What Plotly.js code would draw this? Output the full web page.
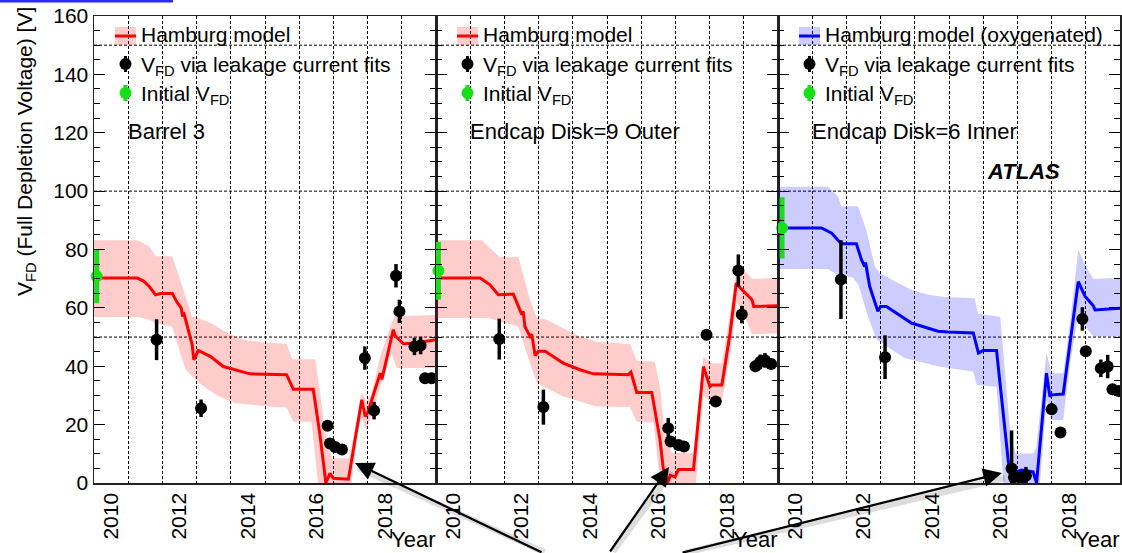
<!DOCTYPE html>
<html>
<head>
<meta charset="utf-8">
<script src="https://cdn.plot.ly/plotly-3.0.1.min.js"></script>
<style>
  html, body { margin: 0; padding: 0; background: #fff; overflow: hidden; }
  #chart { width: 1122px; height: 553px; }
</style>
</head>
<body>
<div id="chart"></div>
<script>
// ---------- Barrel 3 ----------
const b3ModelYear = [2009.5, 2010.77, 2010.96, 2011.11, 2011.3, 2011.45, 2011.79, 2011.94, 2012.05, 2012.09, 2012.12, 2012.18, 2012.28, 2012.37, 2012.42, 2012.55, 2012.91, 2013.28, 2014.06, 2015.13, 2015.33, 2015.91, 2016.1, 2016.28, 2016.4, 2016.5, 2016.94, 2017.33, 2017.43, 2017.5, 2017.87, 2017.92, 2018.25, 2018.3, 2018.55, 2018.84, 2019.5];
const b3ModelV    = [70.2, 70.2, 69.1, 67.4, 64.5, 64.9, 64.9, 61.7, 60.0, 57.0, 58.5, 55.9, 51.4, 47.4, 42.2, 45.4, 43.3, 39.9, 37.4, 37.1, 32.1, 32.1, 17.1, 0.1, 3.3, 1.6, 1.3, 28.5, 22.8, 24.0, 37.6, 35.5, 52.5, 50.5, 47.7, 47.9, 49.1];
const b3UpYear = [2009.5, 2010.77, 2011.11, 2011.3, 2011.79, 2011.89, 2012.13, 2012.37, 2012.52, 2012.91, 2013.4, 2013.89, 2014.37, 2015.13, 2015.3, 2015.97, 2016.12, 2016.26, 2016.45, 2016.97, 2017.05, 2017.33, 2017.45, 2017.6, 2017.87, 2018.2, 2018.3, 2019.5];
const b3UpV    = [83.2, 83.2, 81.1, 77.7, 77.7, 74.2, 65.1, 57.1, 56.5, 54.8, 51.4, 49.1, 48.2, 47.7, 42.4, 42.4, 30.0, 18.0, 8.5, 8.5, 14.0, 31.0, 28.0, 30.0, 43.3, 54.8, 57.1, 57.6];
const b3LoYear = [2009.5, 2010.8, 2011.11, 2011.3, 2011.79, 2012.02, 2012.18, 2012.58, 2013.1, 2013.6, 2014.58, 2015.13, 2015.33, 2015.86, 2016.05, 2017.03, 2017.2, 2017.33, 2017.47, 2017.87, 2018.2, 2018.35, 2019.5];
const b3LoV    = [56.9, 56.9, 55.9, 54.8, 53.5, 44.5, 38.8, 34.2, 30.0, 27.4, 26.2, 25.9, 21.0, 21.0, 0, 0, 18.2, 22.0, 18.0, 33.0, 44.5, 39.4, 39.4];
const b3FitYear = [2011.33, 2012.63, 2016.33, 2016.4, 2016.55, 2016.75, 2017.42, 2017.69, 2018.33, 2018.43, 2018.87, 2019.05, 2019.18, 2019.37];
const b3FitV    = [49.1, 25.6, 19.6, 13.5, 12.3, 11.5, 42.8, 24.8, 71.0, 58.8, 46.8, 47.1, 35.9, 35.9];
const b3FitErr  = [7, 3, 1, 1, 1, 1, 4, 3, 4, 4, 3, 3, 1.5, 1.5];
const b3InitYear = [2009.58], b3InitV = [70.8], b3InitErr = [9.2];

// ---------- Endcap Disk=9 Outer ----------
const d9ModelYear = [2009.5, 2010.79, 2011.08, 2011.32, 2011.76, 2011.91, 2012.01, 2012.05, 2012.1, 2012.25, 2012.3, 2012.4, 2012.49, 2012.69, 2013.22, 2013.71, 2014.1, 2015.12, 2015.2, 2015.37, 2015.81, 2016.05, 2016.15, 2016.27, 2016.35, 2016.49, 2016.59, 2017.03, 2017.32, 2017.51, 2017.56, 2017.86, 2018.1, 2018.28, 2018.4, 2018.74, 2018.79, 2019.5];
const d9ModelV    = [70.2, 70.2, 67.9, 64.5, 64.7, 60.5, 57.7, 58.8, 53.6, 50.2, 51.0, 43.6, 45.1, 45.1, 41.1, 38.8, 37.4, 37.1, 38.0, 31.0, 31.0, 14.8, 4.5, 0, 2.6, 2.1, 4.6, 4.6, 39.9, 33.0, 33.6, 33.6, 51.4, 68.5, 66.8, 62.8, 60.5, 60.7];
const d9UpYear = [2009.5, 2010.84, 2011.12, 2011.37, 2011.91, 2012.06, 2012.25, 2012.45, 2012.74, 2013.22, 2013.71, 2014.2, 2015.17, 2015.37, 2015.9, 2016.05, 2016.19, 2016.4, 2017.0, 2017.05, 2017.32, 2017.56, 2017.86, 2018.1, 2018.3, 2018.53, 2018.74, 2019.5];
const d9UpV    = [83.2, 83.2, 80.0, 77.4, 77.4, 70.8, 62.8, 56.5, 55.9, 53.0, 50.2, 48.4, 47.6, 41.9, 41.5, 32.6, 16.6, 10.3, 10.3, 12.0, 43.3, 41.0, 41.0, 58.2, 74.3, 72.6, 70.0, 70.2];
const d9LoYear = [2009.5, 2011.03, 2011.27, 2011.91, 2012.15, 2012.45, 2013.22, 2014.2, 2015.17, 2015.37, 2015.86, 2016.05, 2017.1, 2017.32, 2017.51, 2017.86, 2018.1, 2018.3, 2018.53, 2018.74, 2019.5];
const d9LoV    = [56.5, 56.5, 55.9, 53.6, 44.5, 34.2, 29.6, 26.2, 26.0, 21.0, 20.7, 0, 0, 30.0, 28.0, 28.0, 44.0, 62.0, 57.0, 51.0, 51.3];
const d9FitYear = [2011.35, 2012.64, 2016.29, 2016.36, 2016.59, 2016.75, 2017.41, 2017.68, 2018.34, 2018.44, 2018.84, 2018.98, 2019.12, 2019.3];
const d9FitV    = [49.3, 26.0, 18.8, 14.2, 13.0, 12.5, 50.8, 27.9, 72.8, 57.7, 40.0, 41.5, 42.0, 40.8];
const d9FitErr  = [7, 6, 3.5, 1, 1, 1, 1.5, 1.5, 5.5, 3, 2, 2.5, 2.5, 1.5];
const d9InitYear = [2009.57], d9InitV = [72.7], d9InitErr = [9.9];

// ---------- Endcap Disk=6 Inner (oxygenated) ----------
const d6ModelYear = [2009.5, 2010.77, 2011.06, 2011.35, 2011.79, 2011.94, 2012.03, 2012.06, 2012.18, 2012.33, 2012.42, 2012.5, 2012.67, 2013.4, 2014.18, 2014.47, 2015.21, 2015.36, 2015.5, 2015.89, 2016.09, 2016.23, 2016.33, 2016.48, 2016.62, 2016.96, 2017.06, 2017.35, 2017.45, 2017.5, 2017.84, 2018.04, 2018.28, 2018.48, 2018.72, 2018.77, 2019.5];
const d6ModelV    = [87.4, 87.4, 85.7, 82.0, 82.0, 76.5, 74.2, 75.5, 67.4, 62.2, 58.8, 60.5, 60.5, 54.8, 52.0, 51.7, 51.4, 44.5, 45.4, 45.4, 22.8, 7.9, 0, 3.8, 4.4, 3.8, 0, 37.6, 29.6, 30.2, 30.5, 47.9, 69.0, 63.9, 60.7, 59.3, 59.9];
const d6UpYear = [2009.5, 2010.96, 2011.25, 2011.35, 2011.84, 2012.08, 2012.33, 2012.47, 2012.91, 2013.4, 2013.89, 2014.37, 2015.25, 2015.35, 2016.0, 2016.09, 2016.29, 2016.45, 2016.96, 2017.05, 2017.35, 2017.5, 2017.84, 2018.04, 2018.28, 2018.52, 2018.72, 2019.5];
const d6UpV    = [101.5, 101.5, 98.2, 94.8, 94.8, 86.8, 74.2, 72.0, 69.1, 66.2, 64.5, 63.7, 63.3, 58.0, 57.0, 45.0, 17.1, 10.1, 10.1, 12.0, 44.5, 37.6, 37.6, 54.8, 79.9, 73.7, 70.0, 70.2];
const d6LoYear = [2009.5, 2010.96, 2011.16, 2011.69, 2011.85, 2012.13, 2012.39, 2013.2, 2014.17, 2015.21, 2015.31, 2015.89, 2016.09, 2017.16, 2017.35, 2017.5, 2017.84, 2018.04, 2018.28, 2018.48, 2018.72, 2019.5];
const d6LoV    = [73.3, 73.3, 71.9, 70.3, 68.0, 57.0, 49.1, 42.8, 40.0, 38.2, 33.6, 33.0, 0, 0, 28.5, 21.6, 21.6, 41.0, 58.2, 53.6, 50.2, 50.2];
const d6FitYear = [2011.34, 2012.63, 2016.33, 2016.4, 2016.6, 2016.75, 2017.5, 2017.76, 2018.4, 2018.5, 2018.94, 2019.14, 2019.28, 2019.47];
const d6FitV    = [69.7, 43.1, 5.0, 2.0, 1.8, 2.5, 25.3, 17.3, 56.2, 45.1, 39.3, 39.9, 32.1, 31.5];
const d6FitErr  = [13.5, 7.5, 13, 1, 1, 3, 2, 1, 4, 1.5, 3, 4, 1, 1];
const d6InitYear = [2009.62], d6InitV = [87.4], d6InitErr = [10.5];

// ---------- axes / labels ----------
const yearTicks = [2010, 2012, 2014, 2016, 2018];
const yearGrid = [2010.5, 2011.5, 2012.5, 2013.5, 2014.5, 2015.5, 2016.5, 2017.5, 2018.5];
const voltTicks = [0, 20, 40, 60, 80, 100, 120, 140, 160];
const voltGrid = [50, 100, 150];
const panelNames = ['Barrel 3', 'Endcap Disk=9 Outer', 'Endcap Disk=6 Inner'];
const modelNames = ['Hamburg model', 'Hamburg model', 'Hamburg model (oxygenated)'];
const fitName = 'V<sub>FD</sub> via leakage current fits';
const initName = 'Initial V<sub>FD</sub>';

const FONT = 'Liberation Sans, Arial, Helvetica, sans-serif';
const GREEN = 'rgb(24,224,24)';
const lineColors = ['#ff0000', '#ff0000', '#0000ff'];
const bandColors = ['rgba(255,0,0,0.2)', 'rgba(255,0,0,0.2)', 'rgba(0,0,255,0.2)'];

const panels = [
  {model: [b3ModelYear, b3ModelV], up: [b3UpYear, b3UpV], lo: [b3LoYear, b3LoV], fit: [b3FitYear, b3FitV, b3FitErr], init: [b3InitYear, b3InitV, b3InitErr]},
  {model: [d9ModelYear, d9ModelV], up: [d9UpYear, d9UpV], lo: [d9LoYear, d9LoV], fit: [d9FitYear, d9FitV, d9FitErr], init: [d9InitYear, d9InitV, d9InitErr]},
  {model: [d6ModelYear, d6ModelV], up: [d6UpYear, d6UpV], lo: [d6LoYear, d6LoV], fit: [d6FitYear, d6FitV, d6FitErr], init: [d6InitYear, d6InitV, d6InitErr]}
];

// plot-area frame in page pixels, used to place the hand-drawn legends and arrows
const W = 1122, H = 553;
const PL = 94, PR = 1120, PT = 16, PB = 483;
const px = x => (x - PL) / (PR - PL);
const py = y => (PB - y) / (PB - PT);
const PW = (PR - PL) / 3;

const traces = [];
const layout = {
  width: W, height: H,
  margin: {l: PL, r: W - PR, t: PT, b: H - PB},
  paper_bgcolor: '#fff', plot_bgcolor: 'rgba(0,0,0,0)',
  showlegend: false,
  font: {family: FONT, size: 21, color: '#000'},
  shapes: [], annotations: []
};

panels.forEach((p, i) => {
  const n = i === 0 ? '' : String(i + 1);
  const xa = 'x' + n, ya = 'y' + n;

  // uncertainty band of the model
  traces.push({
    x: p.up[0].concat(p.lo[0].slice().reverse()),
    y: p.up[1].concat(p.lo[1].slice().reverse()),
    xaxis: xa, yaxis: ya, mode: 'lines', fill: 'toself',
    fillcolor: bandColors[i], line: {width: 0}, hoverinfo: 'skip'
  });
  // model curve
  traces.push({
    x: p.model[0], y: p.model[1], xaxis: xa, yaxis: ya, mode: 'lines',
    line: {color: lineColors[i], width: 3}
  });
  // fitted depletion voltages
  const [fx, fy, fe] = p.fit;
  traces.push({
    x: fx, y: fy, xaxis: xa, yaxis: ya, mode: 'markers', cliponaxis: false,
    marker: {color: '#000', size: 12},
    error_y: {type: 'data', symmetric: false, array: fe, arrayminus: fe.map((e, k) => Math.min(e, fy[k])),
              color: '#000', thickness: 3.5, width: 0}
  });
  // initial depletion voltage
  const [ix, iy, ie] = p.init;
  traces.push({
    x: ix, y: iy, xaxis: xa, yaxis: ya, mode: 'markers', cliponaxis: false,
    marker: {color: GREEN, size: 12},
    error_y: {type: 'data', array: ie, color: GREEN, thickness: 5, width: 0}
  });

  const d0 = i / 3, d1 = (i + 1) / 3;
  layout['xaxis' + n] = {
    domain: [d0, d1], anchor: ya, range: [2009.5, 2019.5],
    tickmode: 'array', tickvals: yearTicks, ticktext: yearTicks.map(String),
    tickangle: -90, ticks: '', showgrid: false, zeroline: false,
    showline: true, linecolor: '#222', linewidth: 1.5, mirror: true,
    tickfont: {family: FONT, size: 21, color: '#000'},
    minor: {tickmode: 'array', tickvals: yearGrid, ticks: '', showgrid: true,
            gridcolor: '#000', gridwidth: 1, griddash: '3px,2px'}
  };
  layout['yaxis' + n] = {
    domain: [0, 1], anchor: xa, range: [0, 160],
    tickmode: 'array', tickvals: voltTicks, ticktext: voltTicks.map(String),
    showticklabels: i === 0, ticks: 'inside', ticklen: 11, tickwidth: 1, tickcolor: '#000',
    showgrid: false, zeroline: false,
    showline: true, linecolor: '#222', linewidth: 1.5, mirror: 'ticks',
    tickfont: {family: FONT, size: 21, color: '#000'},
    minor: {dtick: 5, ticks: 'inside', ticklen: 6, tickwidth: 1, tickcolor: '#000', showgrid: false}
  };

  // horizontal dashed grid
  voltGrid.forEach(v => layout.shapes.push({
    type: 'line', xref: xa + ' domain', yref: ya, x0: 0, x1: 1, y0: v, y1: v,
    line: {color: '#000', width: 1, dash: '3px,2px'}, layer: 'below'
  }));

  // legend block
  const ox = PW * i;
  layout.shapes.push(
    {type: 'rect', xref: 'paper', yref: 'paper', x0: px(115 + ox), x1: px(136 + ox), y0: py(45), y1: py(27),
     fillcolor: bandColors[i], line: {width: 0}},
    {type: 'line', xref: 'paper', yref: 'paper', x0: px(115 + ox), x1: px(136 + ox), y0: py(36), y1: py(36),
     line: {color: lineColors[i], width: 3}},
    {type: 'line', xref: 'paper', yref: 'paper', x0: px(125.5 + ox), x1: px(125.5 + ox), y0: py(56), y1: py(72),
     line: {color: '#000', width: 3}},
    {type: 'circle', xref: 'paper', yref: 'paper', x0: px(119.5 + ox), x1: px(131.5 + ox), y0: py(70), y1: py(58),
     fillcolor: '#000', line: {width: 0}},
    {type: 'line', xref: 'paper', yref: 'paper', x0: px(125.5 + ox), x1: px(125.5 + ox), y0: py(85), y1: py(101),
     line: {color: GREEN, width: 4}},
    {type: 'circle', xref: 'paper', yref: 'paper', x0: px(119.5 + ox), x1: px(131.5 + ox), y0: py(99), y1: py(87),
     fillcolor: GREEN, line: {width: 0}}
  );
  const txt = (text, x, y, extra) => Object.assign({
    text, xref: 'paper', yref: 'paper', x: px(x), y: py(y), xanchor: 'left', yanchor: 'middle',
    showarrow: false, font: {family: FONT, size: 21, color: '#000'}, borderpad: 0
  }, extra || {});
  layout.annotations.push(
    txt(modelNames[i], 140 + ox, 35),
    txt(fitName, 140 + ox, 66),
    txt(initName, 140 + ox, 95),
    txt(panelNames[i], 127 + ox, 131, {font: {family: FONT, size: 22, color: '#000'}}),
    txt('Year', PL + PW * (i + 1), 539, {xanchor: 'right', font: {family: FONT, size: 22, color: '#000'}})
  );
});

layout.annotations.push(
  {text: '<b><i>ATLAS</i></b>', xref: 'paper', yref: 'paper', x: px(1023), y: py(172),
   xanchor: 'center', yanchor: 'middle', showarrow: false, font: {family: FONT, size: 22, color: '#000'}},
  {text: 'V<sub>FD</sub> (Full Depletion Voltage) [V]', xref: 'paper', yref: 'paper',
   x: px(26), y: py(152), xanchor: 'center', yanchor: 'middle', textangle: -90,
   showarrow: false, font: {family: FONT, size: 21, color: '#000'}}
);

// pointer arrows to the type-inversion region, with a soft drop shadow
const arrows = [
  {tip: [355, 463], tail: [543, 558]},
  {tip: [669, 467], tail: [609, 559]},
  {tip: [1002, 473], tail: [681, 558]}
];
arrows.forEach(a => {
  layout.annotations.push({
    text: '', xref: 'paper', yref: 'paper', x: px(a.tip[0] + 3), y: py(a.tip[1] + 5),
    ax: a.tail[0] - a.tip[0], ay: a.tail[1] - a.tip[1], axref: 'pixel', ayref: 'pixel',
    showarrow: true, arrowhead: 0, arrowwidth: 6, arrowcolor: 'rgba(0,0,0,0.13)', standoff: 0
  });
});
arrows.forEach(a => {
  layout.annotations.push({
    text: '', xref: 'paper', yref: 'paper', x: px(a.tip[0]), y: py(a.tip[1]),
    ax: a.tail[0] - a.tip[0], ay: a.tail[1] - a.tip[1], axref: 'pixel', ayref: 'pixel',
    showarrow: true, arrowhead: 2, arrowsize: 1.7, arrowwidth: 2.2, arrowcolor: '#000', standoff: 0
  });
});

// thin blue strip along the top-left edge
layout.shapes.push({type: 'rect', xref: 'paper', yref: 'paper', x0: px(0), x1: px(173), y0: py(2.5), y1: py(0),
                    fillcolor: '#2b2bff', line: {width: 0}});

Plotly.newPlot('chart', traces, layout, {displayModeBar: false, staticPlot: true});
</script>
</body>
</html>
